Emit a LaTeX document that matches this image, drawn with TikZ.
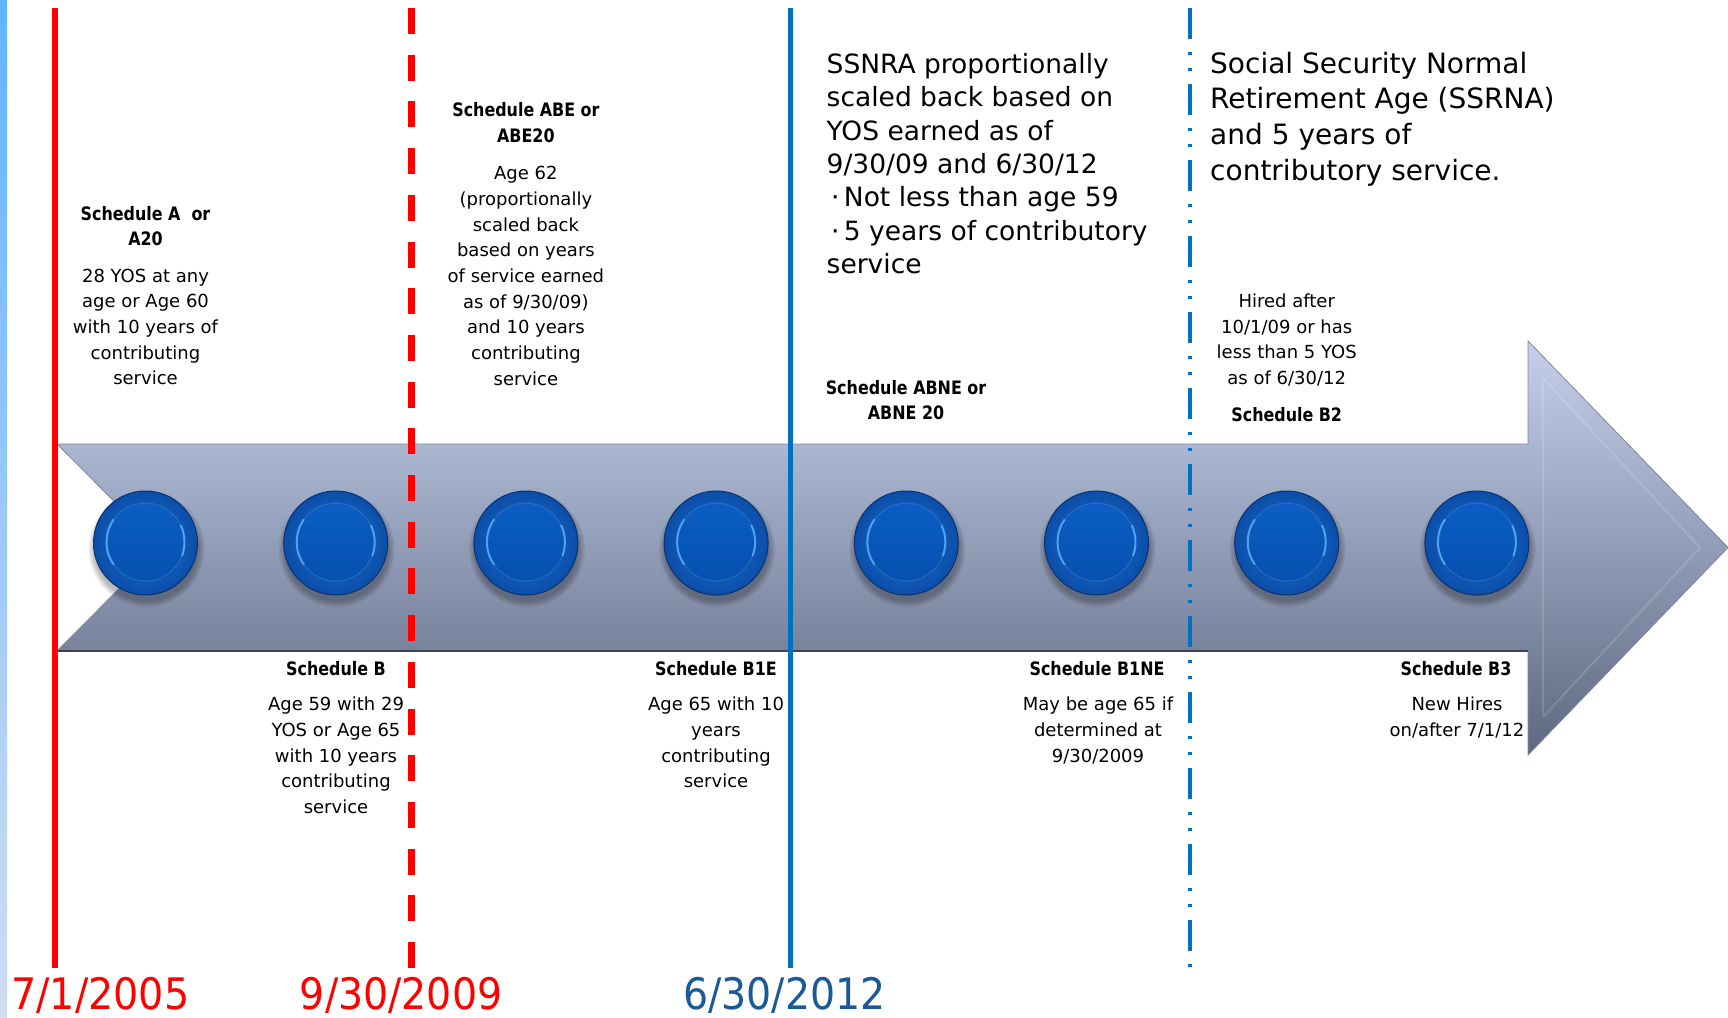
\documentclass[tikz,border=0pt]{standalone}
\usepackage{fontspec}
\setmainfont{DejaVu Sans}
\newfontfamily\narrowfont{DejaVu Sans}[FakeStretch=0.86]

\definecolor{lineRed}{HTML}{FF0000}
\definecolor{lineBlue}{HTML}{0070C0}
\definecolor{dateBlue}{HTML}{1A5A98}
\definecolor{stripTop}{HTML}{62B4FF}
\definecolor{stripBot}{HTML}{D0DDF2}
\definecolor{arrowTop}{HTML}{C5D0EC}
\definecolor{arrowBot}{HTML}{5E6880}
\definecolor{arrowEdge}{HTML}{7C869A}
\definecolor{arrowDark}{HTML}{3C4454}
\definecolor{discIn}{HTML}{1A70D6}
\definecolor{discOut}{HTML}{0B4EA8}
\definecolor{discRim}{HTML}{083272}
\definecolor{capTop}{HTML}{0B5EC4}
\definecolor{capBot}{HTML}{0650B0}
\definecolor{capRim}{HTML}{5AAEF8}

\tikzset{
  disc/.style={circle, minimum size=104pt, inner sep=0pt, draw=discRim,
    line width=1pt, inner color=discIn, outer color=discOut},
  redsolid/.style={draw=lineRed, line width=6.6pt},
  reddash/.style={draw=lineRed, line width=7pt, dash pattern=on 26pt off 20.7pt},
  bluesolid/.style={draw=lineBlue, line width=5pt},
  bluedashdot/.style={draw=lineBlue, line width=4pt,
    dash pattern=on 31pt off 13pt on 3pt off 13pt on 3pt off 13pt},
  % multi-line nodes: the base anchor sits on the last line
  body/.style={font=\fontsize{18}{25.7}\selectfont, align=center,
    inner sep=0pt, anchor=base},
  head/.style={font=\narrowfont\bfseries\fontsize{18.5}{25.3}\selectfont,
    align=center, inner sep=0pt, anchor=base},
  big/.style={font=\fontsize{26.5}{33.4}\selectfont, align=left,
    inner sep=0pt, anchor=base west},
  bigger/.style={font=\fontsize{28}{35.6}\selectfont, align=left,
    inner sep=0pt, anchor=base west},
  datelabel/.style={font=\fontsize{43.4}{50}\selectfont, inner sep=0pt,
    text depth=0pt, anchor=base west},
}

\begin{document}
\begin{tikzpicture}[x=1pt,y=-1pt]
\useasboundingbox (0,0) rectangle (1728,1017);
\fill[white] (0,0) rectangle (1728,1017);

% slim coloured band on the left edge
\shade[top color=stripTop, bottom color=stripBot] (0,0) rectangle (7,1017);

% the big timeline arrow
\shadedraw[top color=arrowTop, bottom color=arrowBot, draw=arrowEdge, line width=0.8pt]
  (57,444) -- (160,547.5) -- (57,651) -- (1528,651) -- (1528,755)
  -- (1728,547.5) -- (1528,341) -- (1528,444) -- cycle;
\draw[arrowDark, line width=1.2pt] (57,651) -- (1528,651);
\draw[white, opacity=0.14, line width=2pt]
  (1543,378) -- (1543,717) (1543,378) -- (1700,547.5) -- (1543,717);

% milestone buttons
\foreach \i/\x in {1/145.5, 2/335.7, 3/525.9, 4/716.1, 5/906.3, 6/1096.5, 7/1286.7, 8/1476.9} {
  \foreach \k in {1,...,5}
    \fill[black, opacity=0.06] (\x+1,549) circle ({51+1.4*\k});
  \node[disc] (dot\i) at (\x,543) {};
  \fill[top color=capTop, bottom color=capBot] ([yshift=1pt]dot\i.center) circle (39);
  \draw[capRim, line width=1pt, opacity=0.35] ([yshift=1pt]dot\i.center) circle (39);
  \draw[capRim, line width=2pt, opacity=0.85, line cap=round]
    ([yshift=1pt]dot\i.center) ++(145:39) arc (145:215:39);
  \draw[capRim, line width=2pt, opacity=0.85, line cap=round]
    ([yshift=1pt]dot\i.center) ++(-25:39) arc (-25:20:39);
}

% date markers
\coordinate (r1t) at (55,8);    \coordinate (r1b) at (55,968);
\coordinate (r2t) at (411,8);   \coordinate (r2b) at (411,968);
\coordinate (b1t) at (790,8);   \coordinate (b1b) at (790,968);
\coordinate (b2t) at (1190,8);  \coordinate (b2b) at (1190,968);
\draw[redsolid] (r1t) -- (r1b);
\draw[reddash] (r2t) -- (r2b);
\draw[bluesolid] (b1t) -- (b1b);
\draw[bluedashdot] (b2t) -- (b2b);

% schedules above the arrow
\node[head] (hA) at (145.5,245.7) {Schedule A\ \ or\\A20};
\node[body] (tA) at (145.5,384.8) {28 YOS at any\\age or Age 60\\with 10 years of\\contributing\\service};

\node[head] (hABE) at (525.9,142.1) {Schedule ABE or\\ABE20};
\node[body] (tABE) at (525.9,385.2) {Age 62\\(proportionally\\scaled back\\based on years\\of service earned\\as of 9/30/09)\\and 10 years\\contributing\\service};

\node[head] (hABNE) at (906,419.8) {Schedule ABNE or\\ABNE 20};

\node[body] (tB2) at (1286.7,384.6) {Hired after\\10/1/09 or has\\less than 5 YOS\\as of 6/30/12};
\node[head] (hB2) at (1286.7,421) {Schedule B2};

% schedules below the arrow
\node[head] (hB) at (336,675.5) {Schedule B};
\node[body] (tB) at (336,813.6) {Age 59 with 29\\YOS or Age 65\\with 10 years\\contributing\\service};

\node[head] (hB1E) at (716,675.5) {Schedule B1E};
\node[body] (tB1E) at (716,787.9) {Age 65 with 10\\years\\contributing\\service};

\node[head] (hB1NE) at (1097,675.5) {Schedule B1NE};
\node[body] (tB1NE) at (1098,762.2) {May be age 65 if\\determined at\\9/30/2009};

\node[head] (hB3) at (1456,675.5) {Schedule B3};
\node[body] (tB3) at (1457,736.5) {New Hires\\on/after 7/1/12};

% rule summaries
\node[big] (ssnra) at (826.5,273.7) {SSNRA proportionally\\scaled back based on\\YOS earned as of\\9/30/09 and 6/30/12\\\,·\,Not less than age 59\\\,·\,5 years of contributory\\service};
\node[bigger] (ssrna) at (1210,180.1) {Social Security Normal\\Retirement Age (SSRNA)\\and 5 years of\\contributory service.};

% dates
\node[datelabel, text=lineRed] (d1) at (11,1009) {\scalebox{0.915}[1]{7/1/2005}};
\node[datelabel, text=lineRed] (d2) at (299.7,1009) {\scalebox{0.91}[1]{9/30/2009}};
\node[datelabel, text=dateBlue] (d3) at (683,1009) {\scalebox{0.91}[1]{6/30/2012}};
\end{tikzpicture}
\end{document}
